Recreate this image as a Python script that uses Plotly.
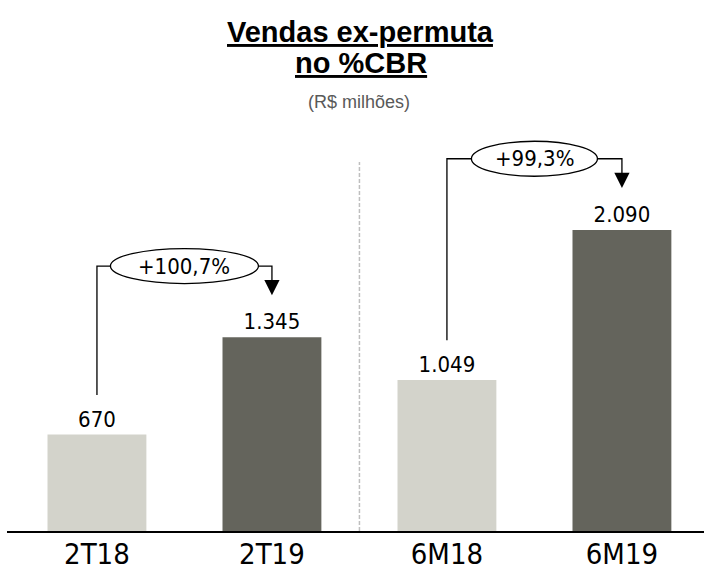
import plotly.graph_objects as go

# ---- data ----
categories = ["2T18", "2T19", "6M18", "6M19"]
values = [670, 1345, 1049, 2090]
growth_labels = ["+100,7%", "+99,3%"]
growth_pairs = [(0, 1), (2, 3)]

title_line1 = "Vendas ex-permuta"
title_line2 = "no %CBR"
subtitle = "(R$ milhões)"

# ---- styles ----
LIGHT = "#D3D3CB"
DARK = "#64645C"
bar_colors = [LIGHT, DARK, LIGHT, DARK]
NUM_FONT = "DejaVu Sans Condensed, DejaVu Sans, sans-serif"
TITLE_FONT = "Liberation Sans, Arial, sans-serif"
ellipse_widths_px = [148, 126]

x_pos = list(range(len(categories)))

fig = go.Figure()
fig.add_trace(go.Bar(
    x=x_pos, y=values, marker=dict(color=bar_colors, line=dict(width=0)),
    width=0.565, texttemplate="%{y:,.0f}", textposition="outside",
    textfont=dict(family=NUM_FONT, size=22, color="black"),
    cliponaxis=False, hoverinfo="skip",
))

# growth brackets
LEFT_GAP = 275     # data units above the left bar
TIP_GAP = 292      # arrow tip above the right bar
BRACKET_GAP = 495  # bracket above taller bar
for (i0, i1), lab, ew in zip(growth_pairs, growth_labels, ellipse_widths_px):
    v0, v1 = values[i0], values[i1]
    yb = max(v0, v1) + BRACKET_GAP
    y_left = v0 + LEFT_GAP
    y_tip = v1 + TIP_GAP
    fig.add_trace(go.Scatter(
        x=[x_pos[i0], x_pos[i0], x_pos[i1], x_pos[i1]],
        y=[y_left, yb, yb, y_tip + 60],
        mode="lines", line=dict(color="black", width=1.3),
        hoverinfo="skip", showlegend=False, cliponaxis=False,
    ))
    fig.add_annotation(
        x=x_pos[i1], y=y_tip, ax=x_pos[i1], ay=y_tip + 60,
        axref="x", ayref="y", xref="x", yref="y", text="",
        showarrow=True, arrowhead=2, arrowsize=2.35, arrowwidth=1.3,
        arrowcolor="black", standoff=0,
    )
    xm = (x_pos[i0] + x_pos[i1]) / 2
    fig.add_shape(
        type="circle", xref="x", yref="y", xsizemode="pixel", ysizemode="pixel",
        xanchor=xm, yanchor=yb, x0=-ew / 2, x1=ew / 2, y0=-17.5, y1=17.5,
        fillcolor="white", line=dict(color="black", width=1.3), layer="above",
    )
    fig.add_annotation(
        x=xm, y=yb, xref="x", yref="y", text=lab, showarrow=False,
        font=dict(family=NUM_FONT, size=22, color="black"),
        xanchor="center", yanchor="middle",
    )

# divider
fig.add_shape(
    type="line", xref="x", yref="y", x0=1.5, x1=1.5, y0=0, y1=2562,
    line=dict(color="#BFBFBF", width=1.5, dash="4px,2px"), layer="below",
)

# titles
fig.add_annotation(
    x=0.5065, y=1.158, xref="paper", yref="paper",
    text="<b><u>" + title_line1 + "</u></b>", showarrow=False,
    font=dict(family=TITLE_FONT, size=29, color="black"),
    xanchor="center", yanchor="middle",
)
fig.add_annotation(
    x=0.5075, y=1.085, xref="paper", yref="paper",
    text="<b><u>" + title_line2 + "</u></b>", showarrow=False,
    font=dict(family=TITLE_FONT, size=29, color="black"),
    xanchor="center", yanchor="middle",
)
fig.add_annotation(
    x=0.505, y=0.995, xref="paper", yref="paper",
    text=subtitle, showarrow=False,
    font=dict(family=TITLE_FONT, size=18, color="#595959"),
    xanchor="center", yanchor="middle",
)

fig.update_layout(
    width=704, height=576,
    margin=dict(l=7, r=0, t=100, b=45),
    paper_bgcolor="white", plot_bgcolor="white",
    showlegend=False, separators=",.",
    xaxis=dict(
        range=[-0.514, 3.469], tickmode="array", tickvals=x_pos, ticktext=categories,
        showgrid=False, zeroline=False, showline=True, linecolor="black", linewidth=2,
        ticks="", tickfont=dict(family=NUM_FONT, size=29, color="black"),
        ticklabelstandoff=-4,
        fixedrange=True, automargin=False,
    ),
    yaxis=dict(
        range=[0, 2993], visible=False, showgrid=False, zeroline=False, fixedrange=True,
        automargin=False,
    ),
)

fig.write_html("out.html", config={"displayModeBar": False},
               post_script="document.body.style.margin='0';")
